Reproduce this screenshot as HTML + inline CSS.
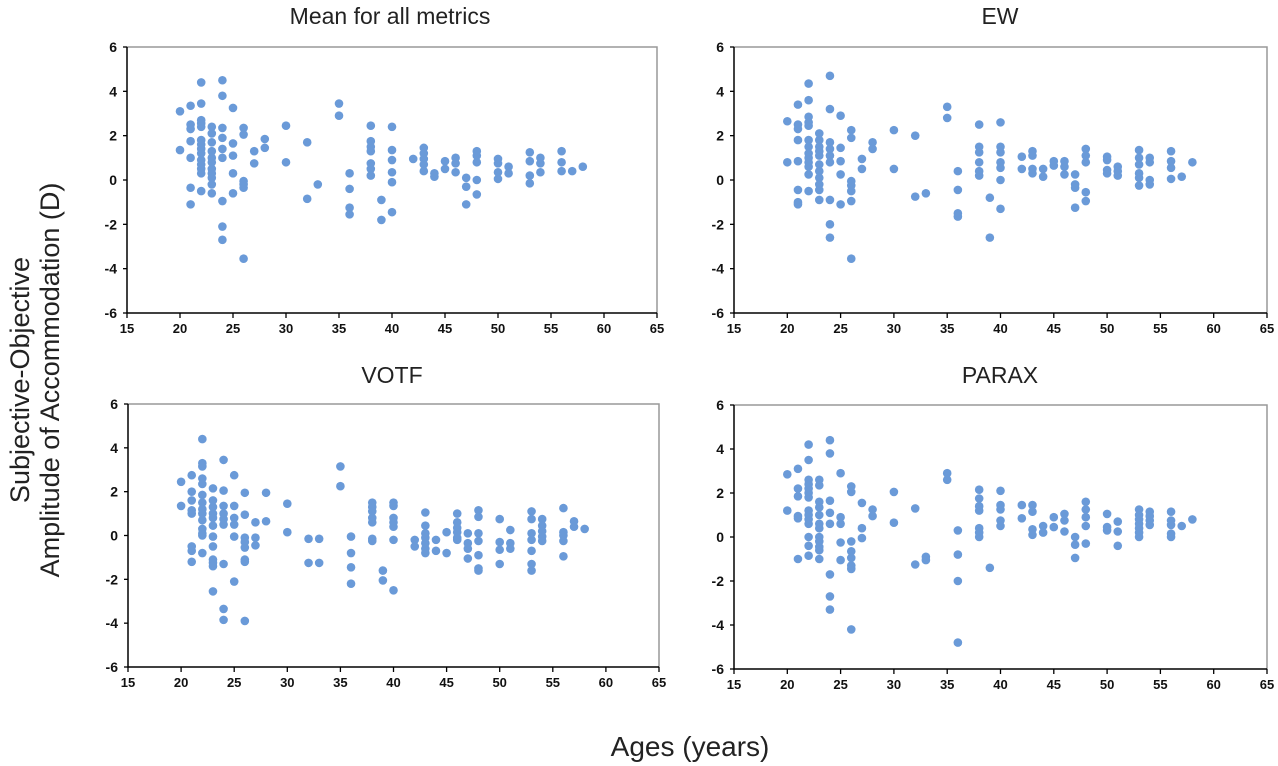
<!DOCTYPE html>
<html><head><meta charset="utf-8"><style>
html,body{margin:0;padding:0;background:#fff;}
svg{display:block;font-family:"Liberation Sans",sans-serif;}
</style></head><body>
<svg id="c" width="1278" height="766" viewBox="0 0 1278 766">
<text x="29" y="380" transform="rotate(-90 29 380)" text-anchor="middle" font-size="27" fill="#222">Subjective-Objective</text>
<text x="59" y="380" transform="rotate(-90 59 380)" text-anchor="middle" font-size="27" fill="#222">Amplitude of Accommodation (D)</text>
<text x="690" y="756" text-anchor="middle" font-size="28" fill="#222">Ages (years)</text>
</svg>
<script>
const xTicks=[15,20,25,30,35,40,45,50,55,60,65];
const yTicks=[-6,-4,-2,0,2,4,6];
const ages=[20,21,22,23,24,25,26,27,28,30,32,33,35,36,38,39,40,42,43,44,45,46,47,48,50,51,53,54,56,57,58];
const meanVals=[[3.1,1.35],[3.35,2.5,2.3,1.75,1.0,-0.35,-1.1],[4.4,3.45,2.7,2.55,2.4,1.8,1.6,1.4,1.2,0.9,0.7,0.5,0.3,-0.5],[2.4,2.1,1.7,1.3,1.0,0.8,0.5,0.3,0.1,-0.2,-0.6],[4.5,3.8,2.35,1.9,1.4,1.0,-0.95,-2.1,-2.7],[3.25,1.65,1.1,0.3,-0.6],[2.35,2.05,-0.05,-0.2,-0.35,-3.55],[1.3,0.75],[1.85,1.45],[2.45,0.8],[1.7,-0.85],[-0.2],[3.45,2.9],[0.3,-0.4,-1.25,-1.55],[2.45,1.75,1.5,1.3,0.75,0.5,0.2],[-0.9,-1.8],[2.4,1.35,0.9,0.35,-0.1,-1.45],[0.95],[1.45,1.2,0.95,0.7,0.4],[0.3,0.15],[0.85,0.5],[1.0,0.75,0.35],[0.1,-0.3,-1.1],[1.3,1.1,0.8,0.0,-0.65],[0.95,0.75,0.35,0.05],[0.6,0.3],[1.25,0.85,0.2,-0.15],[1.0,0.75,0.35],[1.3,0.8,0.4],[0.4],[0.6]];
const ewVals=[[2.65,0.8],[3.4,2.5,2.3,1.8,0.85,-0.45,-1.0,-1.1],[4.35,3.6,2.85,2.6,2.45,1.8,1.5,1.2,1.0,0.8,0.6,0.25,-0.5],[2.1,1.8,1.5,1.3,1.1,0.7,0.4,0.1,-0.2,-0.45,-0.9],[4.7,3.2,1.7,1.4,1.1,0.8,-0.9,-2.0,-2.6],[2.9,1.45,0.85,0.25,-1.1],[2.25,1.9,-0.05,-0.25,-0.5,-0.95,-3.55],[0.95,0.5],[1.7,1.4],[2.25,0.5],[2.0,-0.75],[-0.6],[3.3,2.8],[0.4,-0.45,-1.5,-1.65],[2.5,1.5,1.25,0.8,0.4,0.2],[-0.8,-2.6],[2.6,1.5,1.25,0.8,0.55,0.0,-1.3],[1.05,0.5],[1.3,1.1,0.5,0.3],[0.5,0.15],[0.85,0.65],[0.85,0.6,0.25],[0.25,-0.2,-0.35,-1.25],[1.4,1.1,0.8,-0.55,-0.95],[1.05,0.9,0.45,0.3],[0.6,0.4,0.2],[1.35,1.0,0.7,0.3,0.1,-0.25],[1.0,0.8,0.0,-0.2],[1.3,0.85,0.55,0.05],[0.15],[0.8]];
const votfVals=[[2.45,1.35],[2.75,2.0,1.6,1.15,1.0,-0.5,-0.7,-1.2],[4.4,3.3,3.15,2.6,2.35,1.85,1.5,1.2,1.0,0.7,0.3,0.1,0.0,-0.8],[2.15,1.6,1.3,1.0,0.8,0.45,-0.05,-0.5,-1.1,-1.25,-1.4,-2.55],[3.45,2.05,1.35,1.0,0.75,0.5,-1.3,-3.35,-3.85],[2.75,1.35,0.8,0.5,-0.05,-2.1],[1.95,0.95,-0.1,-0.3,-0.55,-1.1,-1.2,-3.9],[0.6,-0.1,-0.45],[1.95,0.65],[1.45,0.15],[-0.15,-1.25],[-0.15,-1.25],[3.15,2.25],[-0.05,-0.8,-1.45,-2.2],[1.5,1.3,1.1,0.8,0.6,-0.15,-0.25],[-1.6,-2.05],[1.5,1.35,0.8,0.6,0.4,-0.2,-2.5],[-0.2,-0.5],[1.05,0.45,0.1,-0.1,-0.35,-0.6,-0.8],[-0.2,-0.7],[0.15,-0.8],[1.0,0.6,0.35,0.15,-0.1,-0.2],[0.1,-0.35,-0.6,-1.05],[1.15,0.85,0.1,-0.25,-0.9,-1.5,-1.6],[0.75,-0.3,-0.65,-1.3],[0.25,-0.35,-0.6],[1.1,0.75,0.1,-0.2,-0.7,-1.3,-1.6],[0.75,0.45,0.2,-0.05,-0.25],[1.25,0.15,0.0,-0.25,-0.95],[0.65,0.4],[0.3]];
const paraxVals=[[2.85,1.2],[3.1,2.2,1.85,0.95,0.85,-1.0],[4.2,3.5,2.6,2.4,2.2,2.0,1.8,1.2,1.0,0.8,0.6,0.0,-0.4,-0.85],[2.6,2.35,1.6,1.35,1.0,0.6,0.4,0.0,-0.2,-0.45,-0.6,-1.0],[4.4,3.8,1.65,1.1,0.6,-1.7,-2.7,-3.3],[2.9,0.9,0.6,-0.25,-1.05],[2.3,2.05,-0.2,-0.65,-0.95,-1.3,-1.45,-4.2],[1.55,0.4,-0.05],[1.25,0.95],[2.05,0.65],[1.3,-1.25],[-0.9,-1.05],[2.9,2.6],[0.3,-0.8,-2.0,-4.8],[2.15,1.75,1.4,1.2,0.4,0.2,0.0],[-1.4],[2.1,1.45,1.25,0.75,0.5],[1.45,0.85],[1.45,1.15,0.35,0.1],[0.5,0.2],[0.9,0.45],[1.05,0.75,0.25],[0.0,-0.35,-0.95],[1.6,1.25,0.9,0.5,-0.3],[1.05,0.45,0.3],[0.7,0.25,-0.4],[1.25,1.0,0.8,0.6,0.4,0.2,0.0],[1.15,0.95,0.75,0.55],[1.15,0.75,0.55,0.15,0.0],[0.5],[0.8]];
const panelTitles=["Mean for all metrics","EW","VOTF","PARAX"];

const NS="http://www.w3.org/2000/svg";
const svg=document.getElementById('c');
function mk(tag,attrs,parent){const e=document.createElementNS(NS,tag);for(const k in attrs)e.setAttribute(k,attrs[k]);(parent||svg).appendChild(e);return e;}
const panels=[
 {name:'mean',vals:meanVals,x0:127,x1:657,y0:313,y1:47,tx:390,ty:24},
 {name:'ew',vals:ewVals,x0:734,x1:1267,y0:313,y1:47,tx:1000,ty:24},
 {name:'votf',vals:votfVals,x0:128,x1:659,y0:667,y1:404,tx:392,ty:383},
 {name:'parax',vals:paraxVals,x0:734,x1:1267,y0:669,y1:405,tx:1000,ty:383}];
panels.forEach((p,i)=>{
 const g=mk('g',{});
 
 
 const xs=v=>p.x0+(v-15)/50*(p.x1-p.x0);
 const ys=v=>p.y0-(v+6)/12*(p.y0-p.y1);
 const t=mk('text',{x:p.tx,y:p.ty,'text-anchor':'middle','font-size':23,fill:'#222'},g);
 t.textContent=panelTitles[i];
 
 
 const fr=mk('path',{d:`M${p.x0} ${p.y1}H${p.x1}V${p.y0}`,stroke:'#999',fill:'none','stroke-width':1.5},g);
 
 
 const ax=mk('path',{d:`M${p.x0} ${p.y1}V${p.y0}H${p.x1}`,stroke:'#000',fill:'none','stroke-width':1.5},g);
 
 
 xTicks.forEach(v=>{
  mk('line',{x1:xs(v),x2:xs(v),y1:p.y0,y2:p.y0+5,stroke:'#000','stroke-width':1.3},g);
  const l=mk('text',{x:xs(v),y:p.y0+20,'text-anchor':'middle','font-size':13,'font-weight':'bold',fill:'#111'},g);
  l.textContent=v;
  
  
 });
 yTicks.forEach(v=>{
  mk('line',{x1:p.x0-4,x2:p.x0,y1:ys(v),y2:ys(v),stroke:'#000','stroke-width':1.3},g);
  const l=mk('text',{x:p.x0-10,y:ys(v)+5,'text-anchor':'end','font-size':14,'font-weight':'bold',fill:'#111'},g);
  l.textContent=v;
  
  
 });
 ages.forEach((a,k)=>{
  p.vals[k].forEach(v=>{
   const c=mk('circle',{cx:xs(a),cy:ys(v),r:4.3,fill:'#6a9ad8'},g);
   
   
  });
 });
});
</script>
</body></html>
